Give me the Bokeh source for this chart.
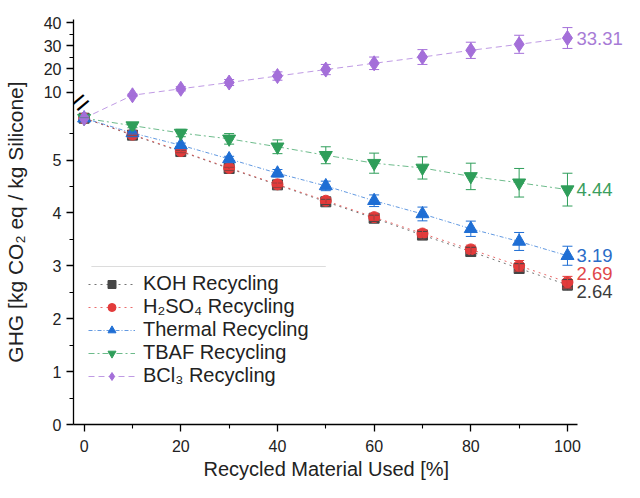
from bokeh.plotting import figure
from bokeh.models import (ColumnDataSource, Range1d, FixedTicker, CustomJSTickFormatter,
                          CustomJSTransform, Whisker, TeeHead, Legend, LegendItem,
                          Label, BoxAnnotation, Title)
from bokeh.transform import transform
from bokeh.embed import file_html
from bokeh.resources import INLINE

# ---------------- data ----------------
recycled = [0, 10, 20, 30, 40, 50, 60, 70, 80, 90, 100]

koh     = [5.79, 5.47, 5.16, 4.84, 4.53, 4.21, 3.90, 3.58, 3.27, 2.95, 2.64]
koh_err = [0.00, 0.01, 0.02, 0.03, 0.04, 0.05, 0.06, 0.07, 0.08, 0.09, 0.10]

h2so4     = [5.79, 5.48, 5.17, 4.85, 4.54, 4.23, 3.92, 3.61, 3.31, 3.00, 2.69]
h2so4_err = [0.00, 0.01, 0.02, 0.03, 0.04, 0.05, 0.06, 0.07, 0.08, 0.10, 0.11]

thermal     = [5.79, 5.51, 5.28, 5.02, 4.75, 4.51, 4.23, 3.98, 3.70, 3.46, 3.19]
thermal_err = [0.00, 0.02, 0.04, 0.05, 0.07, 0.09, 0.11, 0.13, 0.145, 0.17, 0.18]

tbaf     = [5.79, 5.65, 5.51, 5.40, 5.25, 5.09, 4.94, 4.85, 4.69, 4.57, 4.44]
tbaf_err = [0.00, 0.04, 0.07, 0.10, 0.13, 0.16, 0.19, 0.21, 0.25, 0.27, 0.31]

bcl3     = [5.79, 8.6, 11.4, 14.1, 16.9, 19.7, 22.4, 25.1, 28.0, 30.6, 33.31]
bcl3_err = [0.0, 0.5, 0.9, 1.3, 1.8, 2.2, 2.7, 3.2, 3.5, 3.9, 4.5]

series_names = ["KOH Recycling", "H\u2082SO\u2084 Recycling", "Thermal Recycling",
                "TBAF Recycling", "BCl\u2083 Recycling"]
end_labels = ["2.64", "2.69", "3.19", "4.44", "33.31"]

x_ticks = [0, 20, 40, 60, 80, 100]
x_minor = [10, 30, 50, 70, 90]
y_low_ticks = [0, 1, 2, 3, 4, 5]
y_low_minor = [0.5, 1.5, 2.5, 3.5, 4.5, 5.5]
y_high_ticks = [10, 20, 30, 40]
y_high_minor = [15, 25, 35]

# ---------------- broken-axis mapping ----------------
BREAK_T = 6.5        # values above this go to the compressed upper section
UP_A = 6.285         # axis position of value 10
UP_K = 0.0438        # compression of the upper section
UP_B = 10.0

def to_axis(v):
    return v if v <= BREAK_T else UP_A + (v - UP_B) * UP_K

brk = CustomJSTransform(
    args=dict(T=BREAK_T, a=UP_A, k=UP_K, b=UP_B),
    func="return x <= T ? x : a + (x - b) * k;",
    v_func="""
const out = new Array(xs.length);
for (let i = 0; i < xs.length; i++) {
  const v = xs[i];
  out[i] = v <= T ? v : a + (v - b) * k;
}
return out;
""")

FONT = "Liberation Sans"
X0, X_AXIS_END, X_FRAME_END = -2.2, 102.1, 111.8
Y_TOP = 7.656

p = figure(width=624, height=482, output_backend="svg", toolbar_location=None,
           x_range=Range1d(X0, X_FRAME_END), y_range=Range1d(0, Y_TOP),
           min_border_left=71, min_border_right=0, min_border_top=19, min_border_bottom=58)
p.outline_line_color = None
p.xgrid.visible = False
p.ygrid.visible = False
p.border_fill_color = "white"

colors = ["#464646", "#e33b3b", "#1f6ed4", "#2f9e5a", "#a46fd9"]
label_colors = ["#3c3c3c", "#e0474a", "#2a6cc8", "#3a9e5e", "#a77bd6"]
markers = ["square", "circle", "triangle", "inverted_triangle", "diamond"]
sizes = [10, 11, 13, 13, 15]
dashes = ["dotted", "dotted", "4 2 1 2", "6 3 2 3", "6 4"]
line_alpha = [0.75, 0.75, 0.7, 0.7, 0.7]

all_vals = [koh, h2so4, thermal, tbaf, bcl3]
all_errs = [koh_err, h2so4_err, thermal_err, tbaf_err, bcl3_err]

legend_items = []
for name, vals, errs, c, m, s, d, la in zip(series_names, all_vals, all_errs, colors,
                                             markers, sizes, dashes, line_alpha):
    src = ColumnDataSource(dict(
        x=recycled, y=vals,
        lower=[v - e for v, e in zip(vals, errs)],
        upper=[v + e for v, e in zip(vals, errs)]))
    lr = p.line(x="x", y=transform("y", brk), source=src, line_color=c,
                line_width=1, line_dash=d, line_alpha=la)
    w = Whisker(base="x", lower=transform("lower", brk), upper=transform("upper", brk),
                source=src, dimension="height", line_color=c, line_width=1, level="glyph",
                upper_head=TeeHead(size=10, line_color=c, line_width=1),
                lower_head=TeeHead(size=10, line_color=c, line_width=1))
    p.add_layout(w)
    sr = p.scatter(x="x", y=transform("y", brk), source=src, marker=m, size=s,
                   fill_color=c, line_color=c)
    legend_items.append(LegendItem(label=name, renderers=[lr, sr]))

# end-value labels (text glyphs inside the widened frame)
lab_src = ColumnDataSource(dict(
    x=[recycled[-1]] * 5,
    y=[koh[-1], h2so4[-1], thermal[-1], tbaf[-1], bcl3[-1]],
    text=end_labels,
    color=label_colors,
    yoff=[7, -9, 0, 0, 0]))
p.text(x="x", y=transform("y", brk), text="text", source=lab_src,
       text_color="color", x_offset=9, y_offset="yoff",
       text_font={"value": FONT}, text_font_size="18.5px", text_baseline="middle",
       text_align="left")

# axes
p.xaxis.ticker = FixedTicker(ticks=x_ticks, minor_ticks=x_minor)
p.xaxis.bounds = (X0, X_AXIS_END)
p.yaxis.ticker = FixedTicker(
    ticks=y_low_ticks + [to_axis(v) for v in y_high_ticks],
    minor_ticks=y_low_minor + [to_axis(v) for v in y_high_minor])
p.yaxis.formatter = CustomJSTickFormatter(
    args=dict(a=UP_A, k=UP_K, b=UP_B),
    code="return tick <= 6 ? tick.toFixed(0) : (b + (tick - a) / k).toFixed(0);")
p.yaxis.axis_label = "GHG [kg CO\u2082 eq / kg Silicone]"

for ax in (p.xaxis, p.yaxis):
    ax.axis_line_color = "black"
    ax.axis_line_width = 1.3
    ax.major_tick_line_color = "black"
    ax.minor_tick_line_color = "black"
    ax.major_tick_line_width = 1.3
    ax.minor_tick_line_width = 1.1
    ax.major_tick_in = 0
    ax.major_tick_out = 7
    ax.minor_tick_in = 0
    ax.minor_tick_out = 4
    ax.major_label_text_font = FONT
    ax.major_label_text_font_size = "16px"
    ax.major_label_text_color = "#222222"
    ax.axis_label_text_font = FONT
    ax.axis_label_text_font_size = "21px"
    ax.axis_label_text_font_style = "normal"
    ax.axis_label_text_color = "#222222"
p.xaxis.major_label_standoff = 8
p.yaxis.major_label_standoff = 5
p.yaxis.axis_label_standoff = 14

# x-axis title, centred under the drawn part of the axis
xtitle = Title(text="Recycled Material Used [%]", align="left", offset=130,
               text_font=FONT, text_font_size="20px", text_font_style="normal",
               text_color="#222222", standoff=2)
p.add_layout(xtitle, "below")

# axis break marker
brk_mark = Label(x=X0, y=5.99, text="=", angle=0.7, text_font=FONT,
                 text_font_size="30px", text_align="left", text_baseline="middle",
                 text_color="black", level="overlay")
p.add_layout(brk_mark)

# legend top rule
rule = BoxAnnotation(left=1.5, right=50.0, bottom=2.987, top=2.987, fill_alpha=0,
                     line_color="#8a8a8a", line_width=1.2)
p.add_layout(rule)

legend = Legend(items=legend_items, location=(15, 37), border_line_color=None,
                background_fill_alpha=0, label_text_font=FONT, label_text_font_size="20px",
                label_text_color="#222222", glyph_width=47, glyph_height=20,
                label_height=20, spacing=0, padding=6, label_standoff=8, margin=0)
p.add_layout(legend)

open("out.html", "w").write(file_html(p, INLINE))
